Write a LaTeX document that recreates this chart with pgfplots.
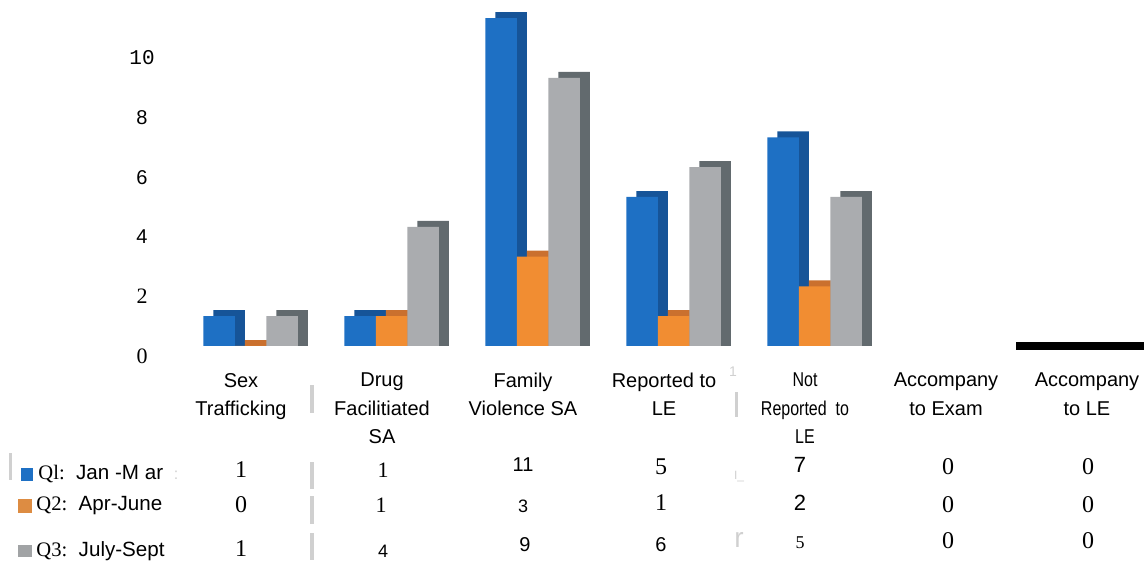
\documentclass[border=0pt]{standalone}
\usepackage{pgfplots}
\pgfplotsset{compat=1.18}
\usepackage{pgfplotstable}
\usepackage{fontspec}
\setmainfont{Liberation Sans}
\newfontfamily\serif{Liberation Serif}
\newfontfamily\mono{Liberation Mono}
\newfontfamily\narrow[FakeStretch=0.8]{Liberation Sans}

\definecolor{qblue}{RGB}{30,112,196}
\definecolor{qblueD}{RGB}{22,84,152}
\definecolor{qorange}{RGB}{241,141,50}
\definecolor{qorangeD}{RGB}{202,112,46}
\definecolor{qgrey}{RGB}{170,172,175}
\definecolor{qgreyD}{RGB}{98,106,110}
\definecolor{scan}{RGB}{208,208,208}

% cases per category, one column per quarter
\pgfplotstableread{
x q1 q2 q3
0 1  0 1
1 1  1 4
2 11 3 9
3 5  1 6
4 7  2 5
5 0  0 0
6 0  0 0
}\counts

\begin{document}
\begin{tikzpicture}[x=0.5pt,y=0.5pt]
\path[use as bounding box] (0,0) rectangle (1144,565);
\begin{axis}[
  at={(85.5pt,109.5pt)}, anchor=south west,
  scale only axis, width=486.5pt, height=172.84pt,
  xmin=-0.4965, xmax=6.4043, ymin=0, ymax=11.6,
  axis line style={draw=none}, tick style={draw=none},
  clip=false,
  xtick={0,...,6},
  xticklabels={Sex\\Trafficking, Drug\\Facilitiated\\SA, Family\\Violence SA,
    Reported to\\LE, {{\narrow Not}\\{\narrow Reported\ \ to}\\{\narrow LE}},
    Accompany\\to Exam, Accompany\\to LE},
  xticklabel style={align=center, anchor=north, yshift=-10pt,
    font=\fontsize{10}{14.2}\selectfont},
  ytick={0,2,4,6,8,10},
  yticklabels={{\serif\fontsize{11}{12}\selectfont 0}, {\serif\fontsize{11}{12}\selectfont 2},
    4, 6, 8, {\mono\fontsize{10.5}{12}\selectfont 10}},
  yticklabel style={anchor=center, xshift=-14.5pt, yshift=-5pt,
    font=\fontsize{10}{12}\selectfont},
  bar width=15.75pt,
  every axis plot/.append style={restrict x to domain=0:4, draw=none},
]
% each quarter: a darker copy behind for depth, then the front face
\addplot[ybar, bar shift=-5.9pt, fill=qblueD, y filter/.expression={y+0.2}]
  table[x=x,y=q1] {\counts};
\addplot[ybar, bar shift=-10.9pt, fill=qblue] table[x=x,y=q1] {\counts};
\addplot[ybar, bar shift=9.85pt, fill=qorangeD, y filter/.expression={y+0.2}]
  table[x=x,y=q2] {\counts};
\addplot[ybar, bar shift=4.85pt, fill=qorange] table[x=x,y=q2] {\counts};
\addplot[ybar, bar shift=25.6pt, fill=qgreyD, y filter/.expression={y+0.2}]
  table[x=x,y=q3] {\counts};
\addplot[ybar, bar shift=20.6pt, fill=qgrey] table[x=x,y=q3] {\counts};
\end{axis}

% thick black rule at the right of the baseline (scan)
\fill[black] (1016,215) rectangle (1144,223);

% scan marks
\fill[scan] (310,152) rectangle (314,180);
\fill[scan] (310,76) rectangle (314,103);
\fill[scan] (310,41) rectangle (314,69);
\fill[scan] (310,5) rectangle (314,32);
\fill[scan] (735,148) rectangle (738,173);
\fill[scan] (9,85) rectangle (12,112);
\node[text=scan, font=\fontsize{7}{8}\selectfont] at (733,193) {1};
\node[text=scan, font=\fontsize{14}{16}\selectfont] at (739,25) {r};
\node[text=scan, font=\fontsize{6}{7}\selectfont] at (739,88) {I\_};
\node[text=scan, font=\fontsize{8}{9}\selectfont] at (176,90) {:};

% data table: row keys
\fill[qblue] (21,84) rectangle (33,97);
\fill[qorange!90!black!90] (18,52) rectangle (32,66);
\fill[qgrey!80!gray] (18,8) rectangle (32,20);
\node[anchor=west, inner sep=0pt, font=\fontsize{10.3}{12}\selectfont] at (38,91)
  {{\serif Ql:}\ \ Jan -M ar};
\node[anchor=west, inner sep=0pt, font=\fontsize{10.3}{12}\selectfont] at (36,59)
  {{\serif Q2:}\ \ Apr-June};
\node[anchor=west, inner sep=0pt, font=\fontsize{10.3}{12}\selectfont] at (36,14)
  {{\serif Q3:}\ \ July-Sept};

% data table: values
\begin{scope}[every node/.style={inner sep=0pt}]
\node[font=\serif\fontsize{12}{13}\selectfont] at (241,95) {1};
\node[font=\serif\fontsize{11}{12}\selectfont] at (383,95) {1};
\node[font=\fontsize{10}{12}\selectfont] at (523,100) {11};
\node[font=\serif\fontsize{12}{13}\selectfont] at (661,98) {5};
\node[font=\fontsize{11}{12}\selectfont] at (800,100) {7};
\node[font=\serif\fontsize{12}{13}\selectfont] at (948,98) {0};
\node[font=\serif\fontsize{12}{13}\selectfont] at (1088,98) {0};

\node[font=\serif\fontsize{12}{13}\selectfont] at (241,60) {0};
\node[font=\serif\fontsize{11}{12}\selectfont] at (381,60) {1};
\node[font=\fontsize{9}{10}\selectfont] at (523,59) {3};
\node[font=\serif\fontsize{12}{13}\selectfont] at (661,62) {1};
\node[font=\fontsize{11}{12}\selectfont] at (800,62) {2};
\node[font=\serif\fontsize{12}{13}\selectfont] at (948,60) {0};
\node[font=\serif\fontsize{12}{13}\selectfont] at (1088,60) {0};

\node[font=\serif\fontsize{12}{13}\selectfont] at (241,16) {1};
\node[font=\fontsize{9}{10}\selectfont] at (383,14) {4};
\node[font=\fontsize{10}{12}\selectfont] at (525,20) {9};
\node[font=\fontsize{10}{12}\selectfont] at (661,20) {6};
\node[font=\serif\fontsize{9}{10}\selectfont] at (800,22) {5};
\node[font=\serif\fontsize{12}{13}\selectfont] at (948,24) {0};
\node[font=\serif\fontsize{12}{13}\selectfont] at (1088,24) {0};
\end{scope}
\end{tikzpicture}
\end{document}
